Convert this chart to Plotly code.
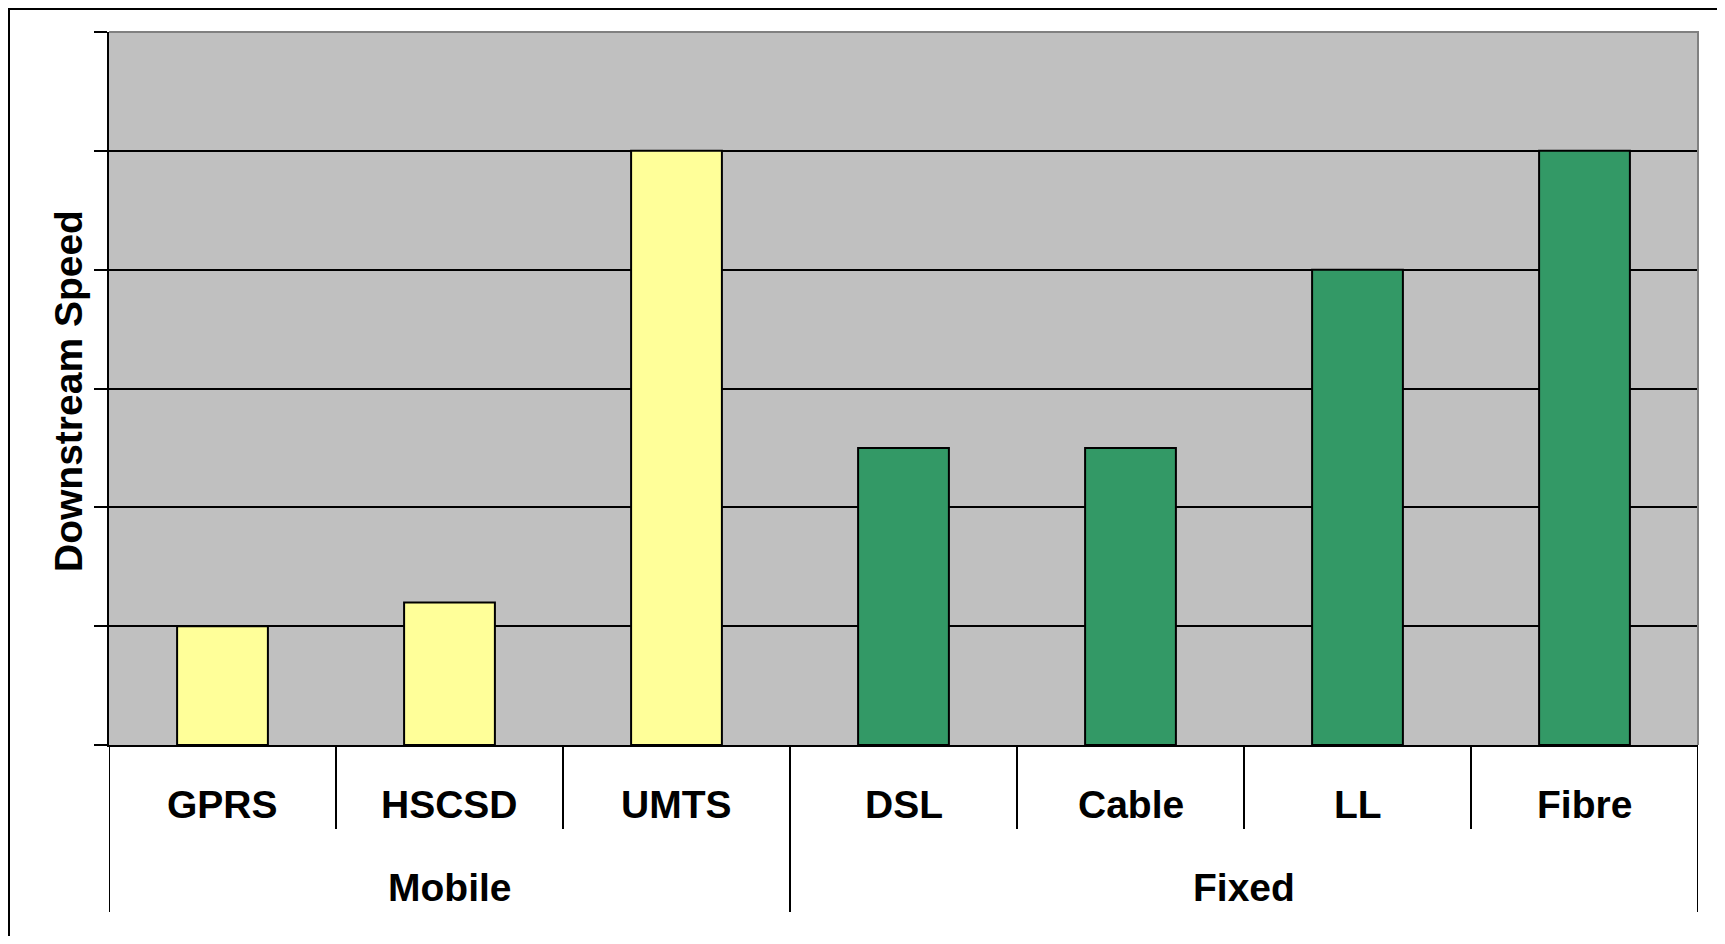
import plotly.graph_objects as go

# ---- data ----
categories = ["GPRS", "HSCSD", "UMTS", "DSL", "Cable", "LL", "Fibre"]
groups = ["Mobile", "Mobile", "Mobile", "Fixed", "Fixed", "Fixed", "Fixed"]
speed = [1, 1.2, 5, 2.5, 2.5, 4, 5]
group_names = ["Mobile", "Fixed"]
group_colors = {"Mobile": "#FFFF99", "Fixed": "#339966"}
y_title = "Downstream Speed"

# ---- layout geometry ----
# the page body has an 8px margin, so the figure sits at (8, 8) in the window
OFF = 8
W, H = 1725 - OFF, 944 - 2 * OFF
# plot area in window pixel coordinates
PL, PR, PT, PB = 109, 1698, 32, 745
ML, MR, MT, MB = PL - OFF, W - (PR - OFF), PT - OFF, H - (PB - OFF)
PW, PH = PR - PL, PB - PT


def px_x(p):
    return (p - PL) / PW


def px_y(p):
    return (PB - p) / PH


FONT = "Liberation Sans, Arial, sans-serif"
FS = 39

fig = go.Figure()
fig.add_trace(go.Bar(
    x=categories,
    y=speed,
    marker=dict(color=[group_colors[g] for g in groups],
                line=dict(color="black", width=2)),
    showlegend=False,
    hoverinfo="x+y",
))

shapes = []
# white frame with black border
shapes.append(dict(type="rect", xref="paper", yref="paper", layer="below",
                   x0=px_x(9), x1=px_x(1719), y0=px_y(990), y1=px_y(9),
                   fillcolor="white", line=dict(color="black", width=2)))
# grey plot background
shapes.append(dict(type="rect", xref="paper", yref="paper", layer="below",
                   x0=0, x1=1, y0=0, y1=1, fillcolor="#C0C0C0",
                   line=dict(width=0)))
# grey top/right border of plot area
shapes.append(dict(type="path", xref="paper", yref="paper", layer="above",
                   path="M 0 1 L 1 1 L 1 0",
                   line=dict(color="#808080", width=2)))

# category dividers
n = len(categories)
for i in range(n + 1):
    xb = i - 0.5
    is_group_edge = (i == 0 or i == n or groups[i] != groups[i - 1])
    y_end = px_y(912) if is_group_edge else px_y(829)
    shapes.append(dict(type="line", xref="x", yref="paper",
                       x0=xb, x1=xb, y0=0, y1=y_end,
                       line=dict(color="black", width=2)))

annotations = []
for c in categories:
    annotations.append(dict(x=c, xref="x", y=px_y(804), yref="paper",
                            text=c, showarrow=False, xanchor="center",
                            yanchor="middle",
                            font=dict(family=FONT, size=FS, color="black",
                                      weight="bold")))
for g in group_names:
    idx = [i for i, gg in enumerate(groups) if gg == g]
    xc = (idx[0] + idx[-1]) / 2
    annotations.append(dict(x=xc, xref="x", y=px_y(887), yref="paper",
                            text=g, showarrow=False, xanchor="center",
                            yanchor="middle",
                            font=dict(family=FONT, size=FS, color="black",
                                      weight="bold")))
annotations.append(dict(x=px_x(69), xref="paper", y=px_y(391), yref="paper",
                        text=y_title, textangle=-90, showarrow=False,
                        xanchor="center", yanchor="middle",
                        font=dict(family=FONT, size=FS, color="black",
                                  weight="bold")))

fig.update_layout(
    width=W, height=H,
    margin=dict(l=ML, r=MR, t=MT, b=MB, pad=0),
    paper_bgcolor="#F0FFF0",
    plot_bgcolor="rgba(0,0,0,0)",
    bargap=0.6,
    shapes=shapes,
    annotations=annotations,
    xaxis=dict(type="category", range=[-0.5, n - 0.5], showticklabels=False,
               ticks="", showgrid=False, showline=True, linecolor="black",
               linewidth=2, zeroline=False, fixedrange=True),
    yaxis=dict(range=[0, 6], dtick=1, showticklabels=False, ticks="outside",
               ticklen=13, tickwidth=2, tickcolor="black", showgrid=True,
               gridcolor="black", gridwidth=2, showline=True,
               linecolor="black", linewidth=2, zeroline=False,
               fixedrange=True),
)

fig.write_html("out.html")
